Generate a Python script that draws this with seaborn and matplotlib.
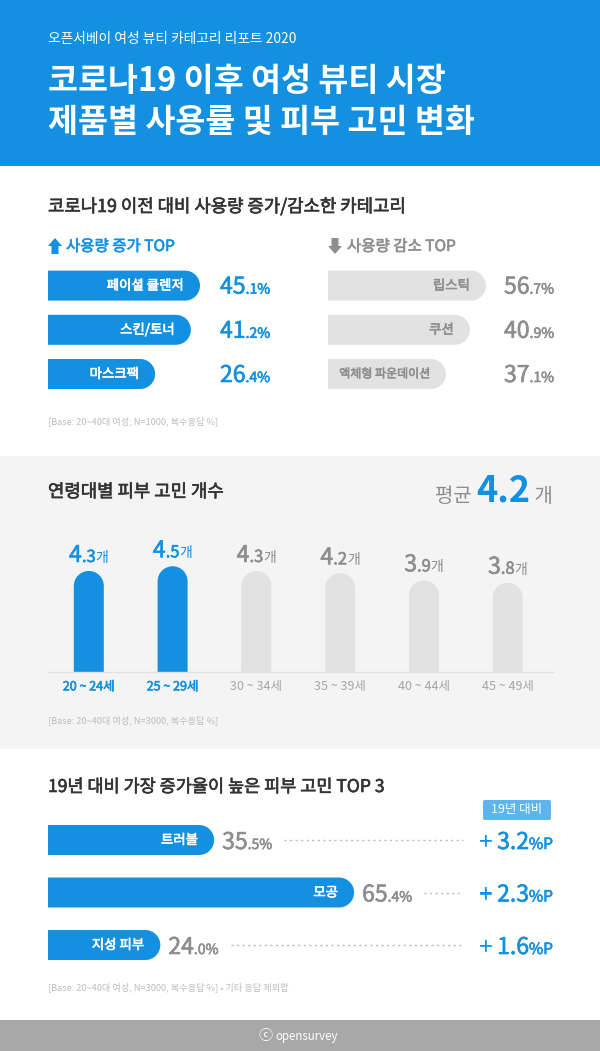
"""Opensurvey 2020 women's beauty report infographic, redrawn with seaborn."""

import matplotlib

matplotlib.use("Agg")

import matplotlib.patheffects as pe
import matplotlib.pyplot as plt
import pandas as pd
import seaborn as sns
from matplotlib.patches import FancyBboxPatch, PathPatch, Polygon, Rectangle
from matplotlib.path import Path

FONT = ["Noto Sans CJK KR", "DejaVu Sans"]
sns.set_theme(style="white")
plt.rcParams["font.family"] = FONT

BLUE = "#1490E0"
BAR_GREY = "#E2E2E2"
TEXT_GREY = "#8E8E8E"
TICK_GREY = "#A6A6A6"
NOTE_GREY = "#BDBDBD"
DARK = "#333333"
W, H = 600, 1051

# ── Data ─────────────────────────────────────────────────────────────────────
increase_names = ["페이셜 클렌저", "스킨/토너", "마스크팩"]
increase_values = [45.1, 41.2, 26.4]
# the original bars are not to scale, so this is the length as drawn, in %
increase_drawn = [45.1, 42.4, 31.8]

decrease_names = ["립스틱", "쿠션", "액체형 파운데이션"]
decrease_values = [56.7, 40.9, 37.1]
decrease_drawn = [56.7, 50.9, 42.3]

age_groups = ["20 ~ 24세", "25 ~ 29세", "30 ~ 34세", "35 ~ 39세", "40 ~ 44세", "45 ~ 49세"]
age_counts = [4.3, 4.5, 4.3, 4.2, 3.9, 3.8]
age_highlight = [True, True, False, False, False, False]

concern_names = ["트러블", "모공", "지성 피부"]
concern_values = [35.5, 65.4, 24.0]
concern_deltas = [3.2, 2.3, 1.6]

fig = plt.figure(figsize=(W / 100, H / 100), dpi=100, facecolor="white")


def px_axes(left, top, right, bottom, zorder=1):
    """Axes placed by pixel box, y measured from the top of the image."""
    ax = fig.add_axes(
        [left / W, 1 - bottom / H, (right - left) / W, (bottom - top) / H], zorder=zorder
    )
    ax.patch.set_alpha(0)
    return ax


back = px_axes(0, 0, W, H, zorder=0)
back.set(xlim=(0, W), ylim=(H, 0))
back.axis("off")
over = px_axes(0, 0, W, H, zorder=5)
over.set(xlim=(0, W), ylim=(H, 0))
over.axis("off")

renderer = fig.canvas.get_renderer()


def to_px(ax, x, y):
    return over.transData.inverted().transform(ax.transData.transform((x, y)))


def thicken(text, color):
    # the CJK font only comes in regular and bold, this fakes a medium weight
    text.set_path_effects([pe.withStroke(linewidth=0.45, foreground=color)])


def say(x, y, text, size, color=DARK, weight="normal", ha="left", va="baseline"):
    # sizes are given in image pixels, 100 dpi
    medium = weight == "medium"
    t = over.text(
        x, y, text, fontsize=size * 0.72, color=color,
        fontweight="normal" if medium else weight, ha=ha, va=va,
    )
    if medium:
        thicken(t, color)
    return t


def runs(x, y, parts, ha="left"):
    """Write (text, size, color, weight) pieces on one baseline; returns the end x."""
    items = [say(0, y, t, s, c, w) for t, s, c, w in parts]
    widths = [i.get_window_extent(renderer).width for i in items]
    total = sum(widths)
    cur = {"left": x, "right": x - total, "center": x - total / 2}[ha]
    for item, width in zip(items, widths):
        item.set_x(cur)
        cur += width
    return cur


def round_bars(ax, radius, horizontal=True):
    """Swap seaborn's rectangles for bars with a rounded far end, same geometry."""
    origin = ax.transData.transform((0, 0))
    unit = ax.transData.transform((1, 1))
    sx, sy = abs(unit[0] - origin[0]), abs(unit[1] - origin[1])
    k = 0.5523
    for patch in list(ax.patches):
        x0, y0 = patch.get_x(), patch.get_y()
        x1, y1 = x0 + patch.get_width(), y0 + patch.get_height()
        color = patch.get_facecolor()
        rx, ry = radius / sx, radius / sy
        if horizontal:
            ya, yb = min(y0, y1), max(y0, y1)
            verts = [
                (x0, ya), (x1 - rx, ya),
                (x1 - rx + k * rx, ya), (x1, ya + ry - k * ry), (x1, ya + ry),
                (x1, ya + ry + k * ry), (x1 - rx + k * rx, yb), (x1 - rx, yb),
                (x0, yb), (x0, ya),
            ]
        else:
            verts = [
                (x0, y0), (x0, y1 - ry),
                (x0, y1 - ry + k * ry), (x0 + rx - k * rx, y1), (x0 + rx, y1),
                (x0 + rx + k * rx, y1), (x1, y1 - ry + k * ry), (x1, y1 - ry),
                (x1, y0), (x0, y0),
            ]
        codes = [Path.MOVETO, Path.LINETO] + [Path.CURVE4] * 6 + [Path.LINETO, Path.CLOSEPOLY]
        patch.remove()
        ax.add_patch(PathPatch(Path(verts, codes), facecolor=color, edgecolor="none", zorder=2))


def hbar_panel(names, lengths, color, label_color, box, px_per_unit, row_px):
    left, top = box
    span = 330
    ax = px_axes(left, top, left + span, top + row_px * len(names))
    df = pd.DataFrame({"name": names, "length": lengths})
    sns.barplot(
        data=df, x="length", y="name", orient="h", color=color, saturation=1,
        width=30 / row_px, ax=ax,
    )
    ax.set_xlim(0, span / px_per_unit)
    ax.set_ylim(len(names) - 0.5, -0.5)
    ax.axis("off")
    labels = ax.bar_label(
        ax.containers[0], labels=names, padding=-16 * 0.72, color=label_color,
        fontsize=13.4 * 0.72,
    )
    for label in labels:
        label.set_ha("right")
        label.set_zorder(4)
        thicken(label, label_color)
    round_bars(ax, 15)
    return ax


# ── Background blocks ────────────────────────────────────────────────────────
back.add_patch(Rectangle((0, 0), W, 166, color=BLUE, lw=0))
back.add_patch(Rectangle((0, 456), W, 293, color="#F4F4F4", lw=0))
back.add_patch(Rectangle((0, 1020), W, 31, color="#A8A8A8", lw=0))

# ── Header ───────────────────────────────────────────────────────────────────
say(48, 43, "오픈서베이 여성 뷰티 카테고리 리포트 2020", 13.8, "white")
say(48, 91, "코로나19 이후 여성 뷰티 시장", 32.6, "white", "bold")
say(48, 132, "제품별 사용률 및 피부 고민 변화", 32.6, "white", "bold")

# ── Section 1: usage up / down ───────────────────────────────────────────────
say(48, 212, "코로나19 이전 대비 사용량 증가/감소한 카테고리", 17.8, DARK, "medium")

over.add_patch(Polygon(
    [(55, 238), (62, 246), (58.5, 246), (58.5, 254), (51.5, 254), (51.5, 246), (48, 246)],
    color=BLUE, lw=0,
))
say(66, 251, "사용량 증가 TOP", 15.5, BLUE, "medium")
over.add_patch(Polygon(
    [(335, 254), (342, 246), (338.5, 246), (338.5, 238), (331.5, 238), (331.5, 246), (328, 246)],
    color=TEXT_GREY, lw=0,
))
say(347, 251, "사용량 감소 TOP", 15.5, TEXT_GREY, "medium")

up_ax = hbar_panel(increase_names, increase_drawn, BLUE, "white", (48, 263.5), 3.37, 44.2)
down_ax = hbar_panel(decrease_names, decrease_drawn, BAR_GREY, TEXT_GREY, (328, 263.5), 2.787, 44.2)
# the long label is set smaller so it stays inside its bar
down_ax.texts[2].set_fontsize(12 * 0.72)

for ax, values, color, col_x in [
    (up_ax, increase_values, BLUE, 220),
    (down_ax, decrease_values, TEXT_GREY, 504),
]:
    for i, value in enumerate(values):
        whole, frac = f"{value:.1f}".split(".")
        _, row_y = to_px(ax, 0, i)
        runs(col_x, row_y + 8, [
            (whole, 23, color, "medium"), (f".{frac}%", 14, color, "medium"),
        ])

say(48, 424, "[Base: 20~40대 여성, N=1000, 복수응답 %]", 9.2, NOTE_GREY)

# ── Section 2: concerns by age ───────────────────────────────────────────────
say(48, 497, "연령대별 피부 고민 개수", 17.8, DARK, "medium")
runs(553, 502, [
    ("평균 ", 20, TEXT_GREY, "normal"), ("4.2", 36, BLUE, "bold"), (" 개", 20, TEXT_GREY, "normal"),
], ha="right")

age_ax = px_axes(48, 540, 553, 672)
age_df = pd.DataFrame({"age": age_groups, "count": age_counts})
age_colors = [BLUE if h else BAR_GREY for h in age_highlight]
sns.barplot(
    data=age_df, x="age", y="count", hue="age", palette=age_colors, saturation=1,
    width=30 / 83.8, legend=False, ax=age_ax,
)
age_ax.set_xlim(-0.487, 5.54)
age_ax.set_ylim(0, 132 / 23.5)
age_ax.set(xlabel="", ylabel="", yticks=[])
sns.despine(ax=age_ax, left=True)
age_ax.spines["bottom"].set_color("#E2E2E2")
age_ax.spines["bottom"].set_linewidth(1)
age_ax.tick_params(axis="x", length=0, pad=6, labelsize=12.5 * 0.72)
for tick, h in zip(age_ax.get_xticklabels(), age_highlight):
    tick.set_color(BLUE if h else TICK_GREY)
    if h:
        thicken(tick, BLUE)
round_bars(age_ax, 15, horizontal=False)

for i, (count, h) in enumerate(zip(age_counts, age_highlight)):
    cx, top_y = to_px(age_ax, i, count)
    whole, frac = f"{count:.1f}".split(".")
    color = BLUE if h else TEXT_GREY
    runs(cx, top_y - 9, [
        (whole, 23, color, "medium"), (f".{frac}", 16.5, color, "medium"), ("개", 14, color, "normal"),
    ], ha="center")

say(48, 723, "[Base: 20~40대 여성, N=3000, 복수응답 %]", 9.2, NOTE_GREY)

# ── Section 3: biggest risers ────────────────────────────────────────────────
say(48, 792, "19년 대비 가장 증가율이 높은 피부 고민 TOP 3", 17.5, DARK, "medium")

over.add_patch(FancyBboxPatch(
    (485, 802), 64, 16, boxstyle="round,pad=2,rounding_size=2", color="#5DB5F0", lw=0,
))
say(517, 810, "19년 대비", 12.5, "white", "normal", ha="center", va="center")

concern_ax = hbar_panel(concern_names, concern_values, BLUE, "white", (48, 813.75), 4.68, 52.5)
for i, (value, delta) in enumerate(zip(concern_values, concern_deltas)):
    bar_x, row_y = to_px(concern_ax, value, i)
    whole, frac = f"{value:.1f}".split(".")
    label_end = runs(bar_x + 8, row_y + 9, [
        (whole, 23, TEXT_GREY, "medium"), (f".{frac}%", 14, TEXT_GREY, "medium"),
    ])
    over.plot([label_end + 12, 463], [row_y, row_y], color="#BBBBBB", lw=1, ls=(0, (1.5, 2.5)))
    runs(553, row_y + 9, [
        ("+ ", 23, BLUE, "medium"), (f"{delta:.1f}", 23, BLUE, "medium"), ("%P", 15.5, BLUE, "medium"),
    ], ha="right")

say(48, 990, "[Base: 20~40대 여성, N=3000, 복수응답 %] • 기타 응답 제외함", 9.2, NOTE_GREY)

# ── Footer ───────────────────────────────────────────────────────────────────
runs(298.5, 1040, [("ⓒ ", 14, "white", "normal"), ("opensurvey", 11.5, "white", "normal")], ha="center")

fig.savefig("out.png", dpi=100)
